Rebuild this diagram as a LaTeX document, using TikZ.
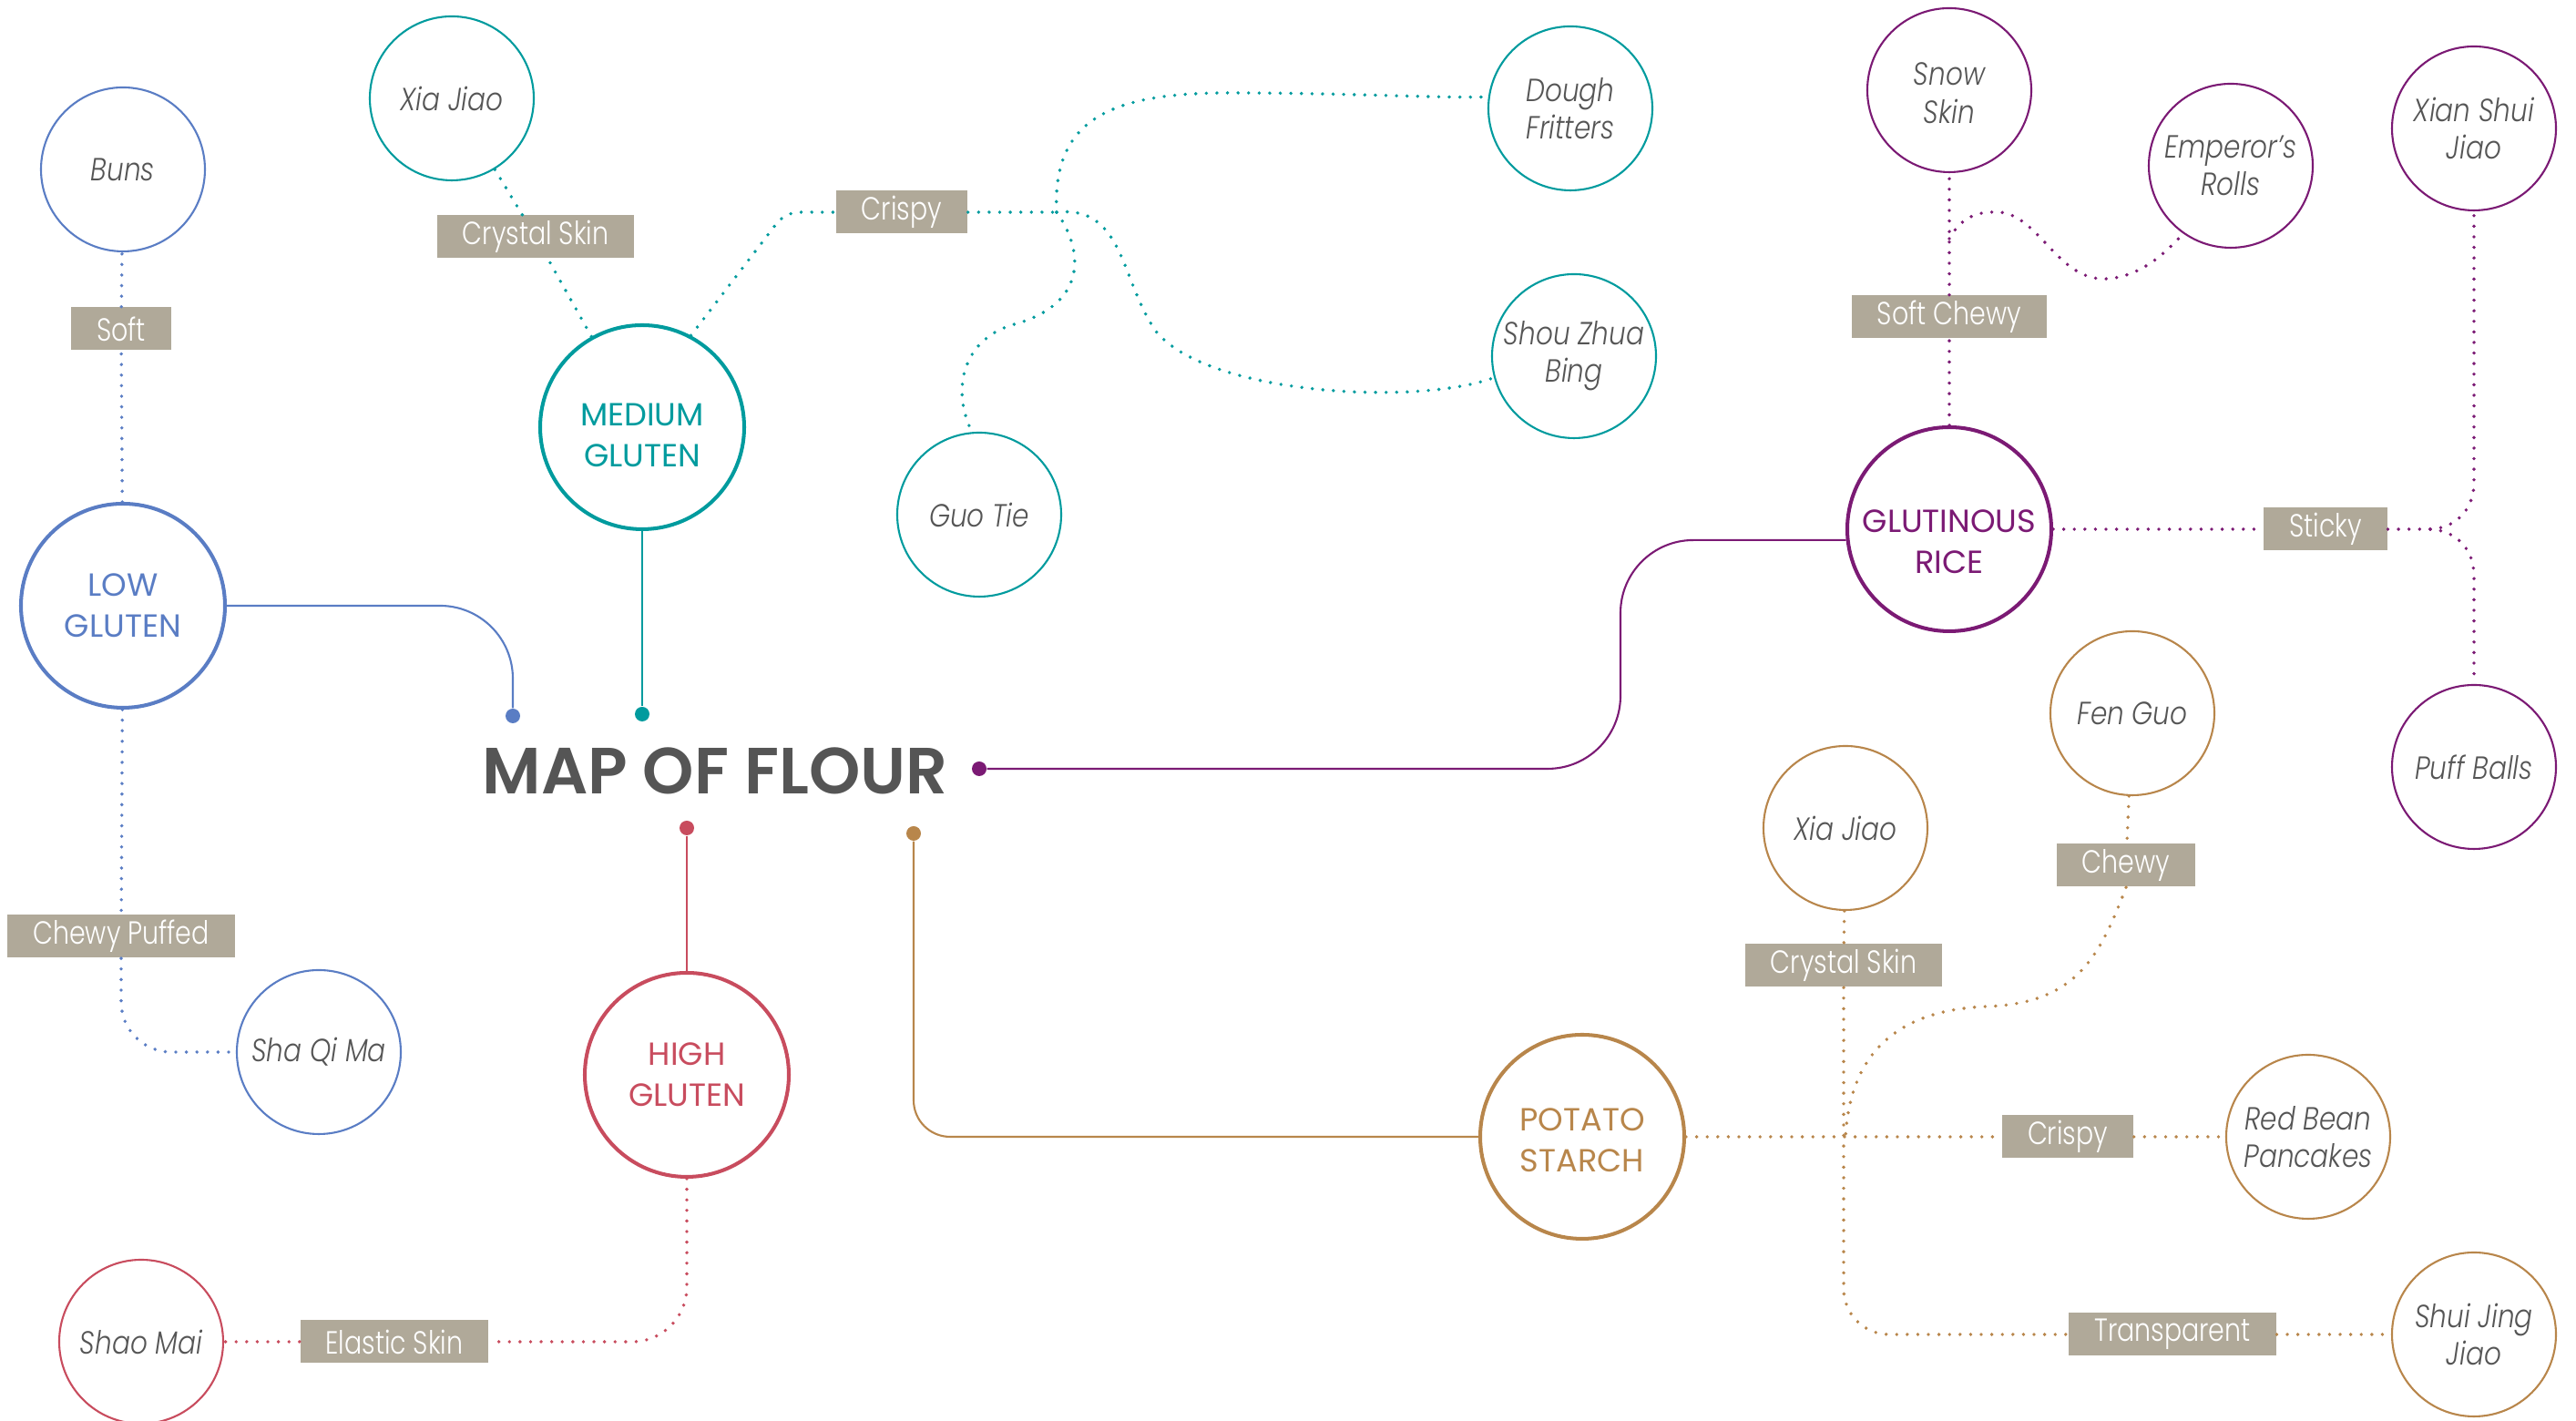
\documentclass[tikz,border=0pt]{standalone}
\usepackage{fontspec}
\setmainfont{Poppins}
\newfontfamily\dishfont{Poppins Light Italic}[FakeStretch=0.84]
\newfontfamily\tagfont{Poppins Light}[FakeStretch=0.81]
\newfontfamily\titlefont{Poppins SemiBold}
\usepackage{tikz}

\definecolor{lowblue}{RGB}{90,125,196}
\definecolor{medteal}{RGB}{0,155,158}
\definecolor{highred}{RGB}{200,76,94}
\definecolor{starchbrown}{RGB}{184,134,75}
\definecolor{ricepurple}{RGB}{123,26,116}
\definecolor{tagfill}{RGB}{176,169,153}
\definecolor{textgray}{RGB}{85,85,85}

% pushes the first line of a flour name down a little
\newcommand{\flourstrut}[1]{\rule{0pt}{#1}}

\tikzstyle{flour}=[circle,draw,line width=1.15pt,minimum size=2.24cm,inner sep=0pt,align=center,font=\fontsize{10}{12.8}\selectfont]
\tikzstyle{dish}=[circle,draw,line width=0.6pt,minimum size=1.8cm,inner sep=0pt,align=center,text=textgray,font=\dishfont\fontsize{10}{11.8}\selectfont]
\tikzstyle{tag}=[rectangle,fill=tagfill,text=white,minimum height=0.47cm,inner xsep=0.28cm,inner ysep=0pt,font=\tagfont\fontsize{10}{12}\selectfont]
\tikzstyle{dot}=[circle,inner sep=0pt,minimum size=0.16cm]
\tikzstyle{link}=[line width=0.6pt]
\tikzstyle{trail}=[line width=1.1pt,line cap=round,dash pattern=on 0pt off 3.3pt]

\begin{document}
\begin{tikzpicture}
  \useasboundingbox (0,0) rectangle (28.28,15.60);

  % title and its five ports
  \node (title) at (7.85,7.14) [text=textgray,font=\titlefont\fontsize{20.4}{24}\selectfont] {MAP OF FLOUR};
  \node (bluedot) at (5.63,7.74) [dot,fill=lowblue] {};
  \node (tealdot) at (7.05,7.76) [dot,fill=medteal] {};
  \node (reddot) at (7.54,6.51) [dot,fill=highred] {};
  \node (browndot) at (10.03,6.45) [dot,fill=starchbrown] {};
  \node (purpledot) at (10.75,7.16) [dot,fill=ricepurple] {};

  % the five flours
  \node (low) at (1.35,8.95) [flour,draw=lowblue,text=lowblue] {LOW\\GLUTEN};
  \node (med) at (7.05,10.91) [flour,draw=medteal,text=medteal] {\flourstrut{12.2pt}MEDIUM\\GLUTEN};
  \node (high) at (7.54,3.80) [flour,draw=highred,text=highred] {HIGH\\GLUTEN};
  \node (potato) at (17.37,3.12) [flour,draw=starchbrown,text=starchbrown] {\flourstrut{9pt}POTATO\\STARCH};
  \node (rice) at (21.40,9.79) [flour,draw=ricepurple,text=ricepurple] {\flourstrut{15pt}GLUTINOUS\\RICE};

  \draw [link,lowblue,rounded corners=0.8cm] (low.east) -| (bluedot);
  \draw [link,medteal] (med) -- (tealdot);
  \draw [link,highred] (reddot) -- (high);
  \draw [link,starchbrown,rounded corners=0.4cm] (browndot) |- (potato.west);
  \draw [link,ricepurple,rounded corners=0.8cm] (purpledot) -| (17.79,9.67) -- (rice.186);

  % low gluten
  \node (buns) at (1.35,13.74) [dish,draw=lowblue] {Buns};
  \node (shaqima) at (3.50,4.05) [dish,draw=lowblue] {Sha Qi Ma};
  \node (soft) at (1.33,11.99) [tag] {Soft};
  \node (chewypuffed) at (1.33,5.32) [tag] {Chewy Puffed};
  \draw [trail,lowblue] (low) -- (soft) -- (buns);
  \draw [trail,lowblue,rounded corners=0.55cm] (low) -- (chewypuffed) |- (shaqima);

  % medium gluten
  \node (xiajiaoA) at (4.96,14.52) [dish,draw=medteal] {Xia Jiao};
  \node (dough) at (17.24,14.41) [dish,draw=medteal] {Dough\\Fritters};
  \node (shou) at (17.28,11.69) [dish,draw=medteal] {Shou Zhua\\Bing};
  \node (guotie) at (10.75,9.95) [dish,draw=medteal] {Guo Tie};
  \node (crystalA) at (5.88,13.00) [tag] {Crystal Skin};
  \node (crispyA) at (9.90,13.27) [tag] {Crispy};
  \coordinate (crispyjoin) at (11.60,13.27);
  \draw [trail,medteal] (med) -- (crystalA) -- (xiajiaoA);
  \draw [trail,medteal,rounded corners=0.15cm] (med.62) -- (8.62,13.27) -- (crispyA);
  \draw [trail,medteal] (crispyA) -- (crispyjoin);
  \draw [trail,medteal] (crispyjoin) .. controls (11.55,14.30) and (12.20,14.58) .. (13.50,14.58)
    .. controls (14.80,14.58) and (15.80,14.52) .. (dough.172);
  \draw [trail,medteal] (crispyjoin) .. controls (11.90,12.85) and (11.95,12.25) .. (11.10,12.03)
    .. controls (10.55,11.85) and (10.45,11.30) .. (guotie.95);
  \draw [trail,medteal] (crispyjoin) .. controls (12.35,13.35) and (12.30,12.50) .. (12.70,11.95)
    .. controls (13.30,11.25) and (15.60,11.15) .. (shou.195);

  % high gluten
  \node (shaomai) at (1.55,0.87) [dish,draw=highred] {Shao Mai};
  \node (elastic) at (4.33,0.87) [tag] {Elastic Skin};
  \draw [trail,highred,rounded corners=0.6cm] (high) |- (elastic) -- (shaomai);

  % potato starch
  \node (xiajiaoB) at (20.26,6.51) [dish,draw=starchbrown] {Xia Jiao};
  \node (fenguo) at (23.41,7.77) [dish,draw=starchbrown] {Fen Guo};
  \node (redbean) at (25.34,3.12) [dish,draw=starchbrown] {Red Bean\\Pancakes};
  \node (shuijing) at (27.16,0.95) [dish,draw=starchbrown] {Shui Jing\\Jiao};
  \node (crystalB) at (20.24,5.00) [tag] {Crystal Skin};
  \node (chewy) at (23.34,6.10) [tag] {Chewy};
  \node (crispyB) at (22.70,3.12) [tag] {Crispy};
  \node (transparent) at (23.85,0.95) [tag] {Transparent};
  \coordinate (potatojoin) at (20.26,3.12);
  \draw [trail,starchbrown] (potato) -- (crispyB) -- (redbean);
  \draw [trail,starchbrown,rounded corners=0.5cm] (xiajiaoB) -- (crystalB) |- (transparent) -- (shuijing);
  \draw [trail,starchbrown] (fenguo) -- (chewy);
  \draw [trail,starchbrown] (chewy.south) .. controls (23.05,5.10) and (22.80,4.58) .. (21.80,4.55)
    .. controls (20.60,4.50) and (20.30,3.80) .. (potatojoin);

  % glutinous rice
  \node (snow) at (21.40,14.61) [dish,draw=ricepurple] {\flourstrut{9pt}Snow\\Skin};
  \node (rolls) at (24.49,13.78) [dish,draw=ricepurple] {Emperor’s\\Rolls};
  \node (xianshui) at (27.16,14.19) [dish,draw=ricepurple] {Xian Shui\\Jiao};
  \node (puff) at (27.16,7.18) [dish,draw=ricepurple] {Puff Balls};
  \node (softchewy) at (21.40,12.12) [tag] {Soft Chewy};
  \node (sticky) at (25.53,9.79) [tag] {Sticky};
  \coordinate (rollsjoin) at (21.40,12.98);
  \coordinate (stickyjoin) at (26.68,9.79);
  \draw [trail,ricepurple] (rice) -- (softchewy) -- (snow);
  \draw [trail,ricepurple] (rollsjoin) .. controls (21.55,13.25) and (21.75,13.28) .. (21.96,13.27)
    .. controls (22.40,13.22) and (22.60,12.50) .. (23.14,12.54)
    .. controls (23.50,12.57) and (23.75,12.80) .. (rolls.235);
  \draw [trail,ricepurple] (rice) -- (sticky) -- (stickyjoin);
  \draw [trail,ricepurple] (stickyjoin) .. controls (26.95,9.80) and (27.16,10.00) .. (27.16,10.30) -- (xianshui);
  \draw [trail,ricepurple] (stickyjoin) .. controls (26.95,9.78) and (27.16,9.58) .. (27.16,9.28) -- (puff);
\end{tikzpicture}
\end{document}
